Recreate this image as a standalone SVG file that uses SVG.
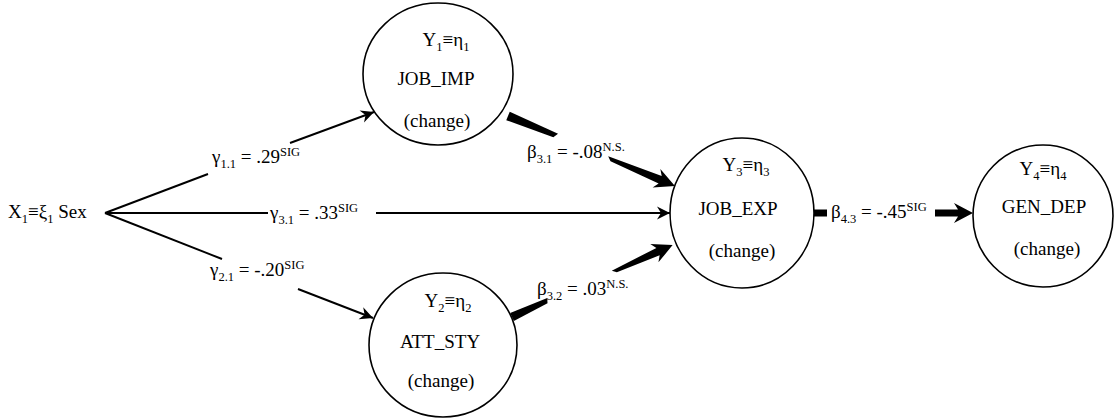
<svg xmlns="http://www.w3.org/2000/svg" width="1115" height="418" viewBox="0 0 1115 418">
  <style>
    text { font-family: "Liberation Serif", "Times New Roman", serif; fill: #000; }
    .nm { font-size: 19px; text-anchor: middle; }
    .lb { font-size: 19px; }
    .sub { font-size: 12.5px; }
    .sup { font-size: 12.5px; }
    .node { fill: #fff; stroke: #000; stroke-width: 1.6; }
    .thin { stroke: #000; stroke-width: 1.9; fill: none; }
    .thick { fill: #000; stroke: none; }
  </style>
  <defs>
    <marker id="barb" viewBox="-14 -7 15 14" refX="0" refY="0" markerWidth="15" markerHeight="14" markerUnits="userSpaceOnUse" orient="auto">
      <path d="M0,0 L-13,-6.5 L-9,0 L-13,6.5 Z" fill="#000"/>
    </marker>
  </defs>
  <rect width="1115" height="418" fill="#fff"/>

  <!-- connectors -->
  <g id="connectors">
    <!-- gamma paths from Sex -->
    <line class="thin" x1="105" y1="213" x2="208" y2="174"/>
    <line class="thin" x1="290" y1="143" x2="374" y2="112" marker-end="url(#barb)"/>
    <line class="thin" x1="105" y1="213" x2="268" y2="213"/>
    <line class="thin" x1="376" y1="213" x2="670" y2="213" marker-end="url(#barb)"/>
    <line class="thin" x1="105" y1="213" x2="222" y2="259"/>
    <line class="thin" x1="298" y1="289" x2="373" y2="318" marker-end="url(#barb)"/>

    <!-- beta 3.1: JOB_IMP to JOB_EXP -->
    <g transform="translate(508,116) rotate(22.74)">
      <polygon class="thick" points="0,-4.5 53,-3 50,2 0,4.5"/>
      <polygon class="thick" points="108,-1.5 165,-4 161,-10 181,0 161,10 165,4 112,2"/>
    </g>
    <!-- beta 3.2: ATT_STY to JOB_EXP -->
    <g transform="translate(512,317) rotate(-24.13)">
      <polygon class="thick" points="0,-4.5 40,-3 38,2 0,4.5"/>
      <polygon class="thick" points="110,-1.5 160,-4 156,-10 176,0 156,10 160,4 114,2"/>
    </g>
    <!-- beta 4.3: JOB_EXP to GEN_DEP -->
    <rect class="thick" x="811" y="209.5" width="16" height="7"/>
    <polygon class="thick" points="935,209.5 958,209.5 954,203 973,213 954,223 958,216.5 935,216.5"/>

    <!-- path labels -->
    <text class="lb" x="212" y="163">γ<tspan class="sub" dy="5">1.1</tspan><tspan dy="-5"> = .29</tspan><tspan class="sup" dy="-7">SIG</tspan></text>
    <text class="lb" x="270" y="219">γ<tspan class="sub" dy="5">3.1</tspan><tspan dy="-5"> = .33</tspan><tspan class="sup" dy="-7">SIG</tspan></text>
    <text class="lb" x="210" y="276">γ<tspan class="sub" dy="5">2.1</tspan><tspan dy="-5"> = -.20</tspan><tspan class="sup" dy="-7">SIG</tspan></text>
    <text class="lb" x="527" y="158">β<tspan class="sub" dy="5">3.1</tspan><tspan dy="-5"> = -.08</tspan><tspan class="sup" dy="-7">N.S.</tspan></text>
    <text class="lb" x="537" y="295">β<tspan class="sub" dy="5">3.2</tspan><tspan dy="-5"> = .03</tspan><tspan class="sup" dy="-7">N.S.</tspan></text>
    <text class="lb" x="831" y="218">β<tspan class="sub" dy="5">4.3</tspan><tspan dy="-5"> = -.45</tspan><tspan class="sup" dy="-7">SIG</tspan></text>
  </g>

  <!-- exogenous variable -->
  <g id="sex">
    <text class="lb" x="8" y="218">X<tspan class="sub" dy="5">1</tspan><tspan dy="-5">≡ξ</tspan><tspan class="sub" dy="5">1</tspan><tspan dy="-5"> Sex</tspan></text>
  </g>

  <g id="job_imp">
    <ellipse class="node" cx="438" cy="74" rx="75" ry="71"/>
    <text class="nm" x="446" y="46">Y<tspan class="sub" dy="5">1</tspan><tspan dy="-5">≡η</tspan><tspan class="sub" dy="5">1</tspan></text>
    <text class="nm" x="436" y="85">JOB_IMP</text>
    <text class="nm" x="437" y="127">(change)</text>
  </g>

  <g id="att_sty">
    <ellipse class="node" cx="443" cy="345" rx="74" ry="72"/>
    <text class="nm" x="448" y="307">Y<tspan class="sub" dy="5">2</tspan><tspan dy="-5">≡η</tspan><tspan class="sub" dy="5">2</tspan></text>
    <text class="nm" x="440" y="348">ATT_STY</text>
    <text class="nm" x="441" y="387">(change)</text>
  </g>

  <g id="job_exp">
    <ellipse class="node" cx="742" cy="213" rx="72" ry="75"/>
    <text class="nm" x="746" y="171">Y<tspan class="sub" dy="5">3</tspan><tspan dy="-5">≡η</tspan><tspan class="sub" dy="5">3</tspan></text>
    <text class="nm" x="738" y="215">JOB_EXP</text>
    <text class="nm" x="742" y="257">(change)</text>
  </g>

  <g id="gen_dep">
    <ellipse class="node" cx="1043" cy="216" rx="70" ry="71"/>
    <text class="nm" x="1043" y="175">Y<tspan class="sub" dy="5">4</tspan><tspan dy="-5">≡η</tspan><tspan class="sub" dy="5">4</tspan></text>
    <text class="nm" x="1044" y="213">GEN_DEP</text>
    <text class="nm" x="1047" y="255">(change)</text>
  </g>
</svg>
